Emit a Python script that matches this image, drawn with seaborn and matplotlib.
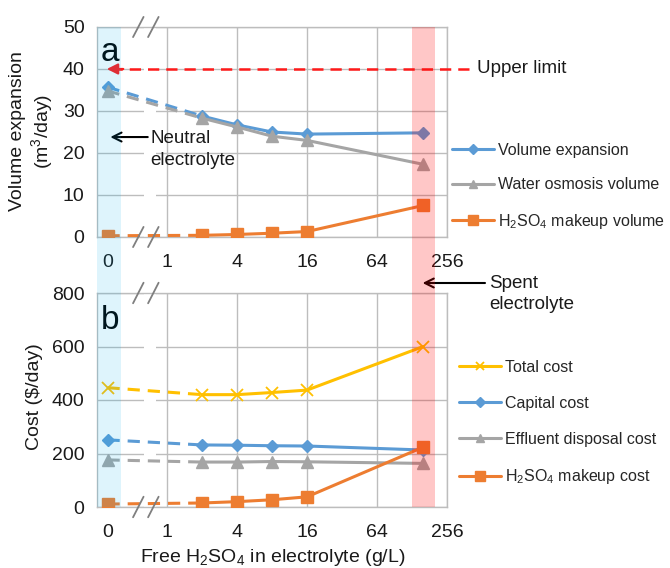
import numpy as np
import pandas as pd
import matplotlib
matplotlib.use("Agg")
import matplotlib.pyplot as plt
import seaborn as sns
from matplotlib.lines import Line2D
from matplotlib.patches import Rectangle

# ---------------- data ----------------
acid_gl = [0, 2, 4, 8, 16, 160]          # free H2SO4 in electrolyte (g/L)
vol_expansion = [35.7, 28.8, 26.7, 25.0, 24.5, 24.8]
water_osmosis = [34.8, 28.3, 26.2, 24.0, 23.0, 17.3]
h2so4_volume = [0.3, 0.4, 0.6, 0.9, 1.3, 7.5]
total_cost = [446, 420, 420, 428, 437, 600]
capital_cost = [251, 232, 231, 229, 228, 213]
effluent_cost = [176, 168, 168, 170, 169, 163]
h2so4_cost = [11, 15, 20, 27, 38, 224]
upper_limit = 40
tick_values = [0, 1, 4, 16, 64, 256]
tick_labels = ["0", "1", "4", "16", "64", "256"]
neutral_acid = 0
spent_acid = 160

# ---------------- style ----------------
sns.set_style("white")
plt.rcParams["font.family"] = ["Liberation Sans", "DejaVu Sans"]
plt.rcParams["mathtext.default"] = "regular"

BLUE = "#5B9BD5"
GRAY = "#A5A5A5"
ORANGE = "#ED7D31"
YELLOW = "#FFC000"
GRID = "#BDBDBD"
TXT = "#1a1a1a"

ZERO_POS = -1.7   # position of the "0" value on the broken log2 axis


def to_pos(values):
    return np.array([np.log2(v) if v > 0 else ZERO_POS for v in values], dtype=float)


W, H = 670, 568
fig = plt.figure(figsize=(W / 100, H / 100), dpi=100)
ax1 = fig.add_axes([97 / W, 1 - 237 / H, 350 / W, 210 / H])
ax2 = fig.add_axes([97 / W, 1 - 507 / H, 350 / W, 214 / H])

xpos = to_pos(acid_gl)
tick_pos = to_pos(tick_values)
LW = 2.2


def draw_series(ax, vals, color, marker, ms, label, mew=1.0):
    vals = np.asarray(vals, dtype=float)
    d_solid = pd.DataFrame({"x": xpos[1:], "y": vals[1:]})
    sns.lineplot(data=d_solid, x="x", y="y", ax=ax, color=color, lw=LW,
                 marker=marker, markersize=ms, markeredgecolor=color,
                 markeredgewidth=mew, zorder=3, estimator=None, sort=False)
    d_dash = pd.DataFrame({"x": xpos[:2], "y": vals[:2]})
    sns.lineplot(data=d_dash, x="x", y="y", ax=ax, color=color, lw=LW,
                 zorder=3, estimator=None, sort=False)
    ax.lines[-1].set_dashes([4, 2.6])
    ax.plot(xpos[:1], vals[:1], marker=marker, ms=ms, color=color,
            mec=color, mew=mew, ls="none", zorder=3)
    return Line2D([], [], color=color, lw=LW, marker=marker, ms=ms * 0.8,
                  mec=color, mew=mew, label=label)


def style_axes(ax, ymax, ystep):
    ax.set_xlim(-2.0, 8.0)
    ax.set_ylim(0, ymax)
    ax.set_yticks(np.arange(0, ymax + 1, ystep))
    ax.set_xticks(tick_pos[1:])
    ax.set_xticklabels(tick_labels[1:])
    ax.set_xticks([tick_pos[0]], minor=True)
    ax.set_xticklabels([tick_labels[0]], minor=True)
    ax.set_axisbelow(True)
    ax.grid(True, which="major", color=GRID, lw=1.0)
    ax.tick_params(axis="both", which="both", length=0, labelsize=14,
                   labelcolor=TXT)
    ax.tick_params(axis="x", which="both", pad=12)
    ax.tick_params(axis="y", pad=9)
    for s in ax.spines.values():
        s.set_color(GRID)
        s.set_linewidth(1.0)
    # white gap in grid lines at the axis break
    ax.axvspan(-0.66, -0.31, color="white", zorder=0.8, lw=0)
    # break marks
    for x0 in (-0.97, -0.54):
        for yb in (0.0, 1.0):
            ax.plot([x0, x0 + 0.3], [yb - 0.048, yb + 0.048], color="#7f7f7f",
                    lw=1.3, transform=ax.get_xaxis_transform(), clip_on=False,
                    zorder=4)


# ---------------- panel a ----------------
style_axes(ax1, 50, 10)
h_a = [
    draw_series(ax1, vol_expansion, BLUE, "D", 6, "Volume expansion"),
    draw_series(ax1, water_osmosis, GRAY, "^", 8, "Water osmosis volume"),
    draw_series(ax1, h2so4_volume, ORANGE, "s", 8.5, "H$_2$SO$_4$ makeup volume"),
]
# upper limit
ax1.plot([ZERO_POS + 0.1, 8.7], [upper_limit, upper_limit], color="#FF1A1A",
         lw=1.8, dashes=[4.5, 2.8], clip_on=False, zorder=3)
ax1.annotate("", xy=(ZERO_POS - 0.02, upper_limit), xytext=(ZERO_POS + 0.45, upper_limit),
             arrowprops=dict(arrowstyle="-|>", color="#FF1A1A", lw=1.6,
                             mutation_scale=16, shrinkA=0, shrinkB=0), zorder=4)
ax1.text(8.85, upper_limit, "Upper limit", fontsize=13.5, color=TXT,
         ha="left", va="center")
# neutral electrolyte
ax1.annotate("", xy=(ZERO_POS + 0.08, 23.8), xytext=(-0.55, 23.8),
             arrowprops=dict(arrowstyle="->", color="black", lw=1.5,
                             mutation_scale=16, shrinkA=0, shrinkB=0))
ax1.text(-0.47, 20.9, "Neutral\nelectrolyte", fontsize=13.5, color=TXT,
         ha="left", va="center", linespacing=1.4)
ax1.text(0.01, 0.84, "a", transform=ax1.transAxes, fontsize=24, color="black",
         ha="left", va="baseline")
ax1.set_xlabel("")
ax1.set_ylabel("Volume expansion\n(m$^3$/day)", fontsize=14, color=TXT)
ax1.yaxis.label.set_va("center")
ax1.yaxis.set_label_coords(-0.186, 0.505)

# ---------------- panel b ----------------
style_axes(ax2, 800, 200)
h_b = [
    draw_series(ax2, total_cost, YELLOW, "x", 8, "Total cost", mew=1.3),
    draw_series(ax2, capital_cost, BLUE, "D", 6, "Capital cost"),
    draw_series(ax2, effluent_cost, GRAY, "^", 8, "Effluent disposal cost"),
    draw_series(ax2, h2so4_cost, ORANGE, "s", 8.5, "H$_2$SO$_4$ makeup cost"),
]
ax2.text(0.01, 0.83, "b", transform=ax2.transAxes, fontsize=24, color="black",
         ha="left", va="baseline")
ax2.set_ylabel("Cost ($/day)", fontsize=14, color=TXT)
ax2.yaxis.label.set_va("center")
ax2.yaxis.set_label_coords(-0.18, 0.514)
ax2.set_xlabel("Free H$_2$SO$_4$ in electrolyte (g/L)", fontsize=14, color=TXT)
ax2.xaxis.label.set_va("baseline")
ax2.xaxis.set_label_coords(0.503, -0.255)

# spent electrolyte (between panels)
y_spent = 1 - 283 / H
ax2.annotate("", xy=(np.log2(spent_acid) - 0.02, y_spent), xycoords=("data", "figure fraction"),
             xytext=(485 / W, y_spent), textcoords="figure fraction",
             arrowprops=dict(arrowstyle="->", color="black", lw=1.5,
                             mutation_scale=16, shrinkA=0, shrinkB=0),
             annotation_clip=False)
fig.text(489 / W, 1 - 294 / H, "Spent\nelectrolyte", fontsize=13.5, color=TXT,
         ha="left", va="center", linespacing=1.3)

# ---------------- highlight bands spanning both panels ----------------
inv = fig.transFigure.inverted()
y_top = ax1.get_position().y1
y_bot = ax2.get_position().y0
for (p0, p1), col, alpha in [((-2.0, ZERO_POS + 0.38), "#00AEEF", 0.13),
                             ((np.log2(spent_acid) - 0.33, np.log2(spent_acid) + 0.33), "#FF0000", 0.22)]:
    fx0 = inv.transform(ax2.transData.transform((p0, 0)))[0]
    fx1 = inv.transform(ax2.transData.transform((p1, 0)))[0]
    fig.add_artist(Rectangle((fx0, y_bot), fx1 - fx0, y_top - y_bot,
                             transform=fig.transFigure, facecolor=col,
                             alpha=alpha, lw=0, zorder=5))

# ---------------- legends ----------------
fig.legend(handles=h_a, loc="upper left", bbox_to_anchor=(452 / W, 1 - 143 / H),
           bbox_transform=fig.transFigure, frameon=False, borderpad=0,
           borderaxespad=0, handlelength=2.6, handletextpad=0.3,
           labelspacing=1.22, fontsize=11.5)
fig.legend(handles=h_b, loc="upper left", bbox_to_anchor=(459 / W, 1 - 360 / H),
           bbox_transform=fig.transFigure, frameon=False, borderpad=0,
           borderaxespad=0, handlelength=2.6, handletextpad=0.3,
           labelspacing=1.3, fontsize=11.5)

fig.savefig("out.png", dpi=100)
